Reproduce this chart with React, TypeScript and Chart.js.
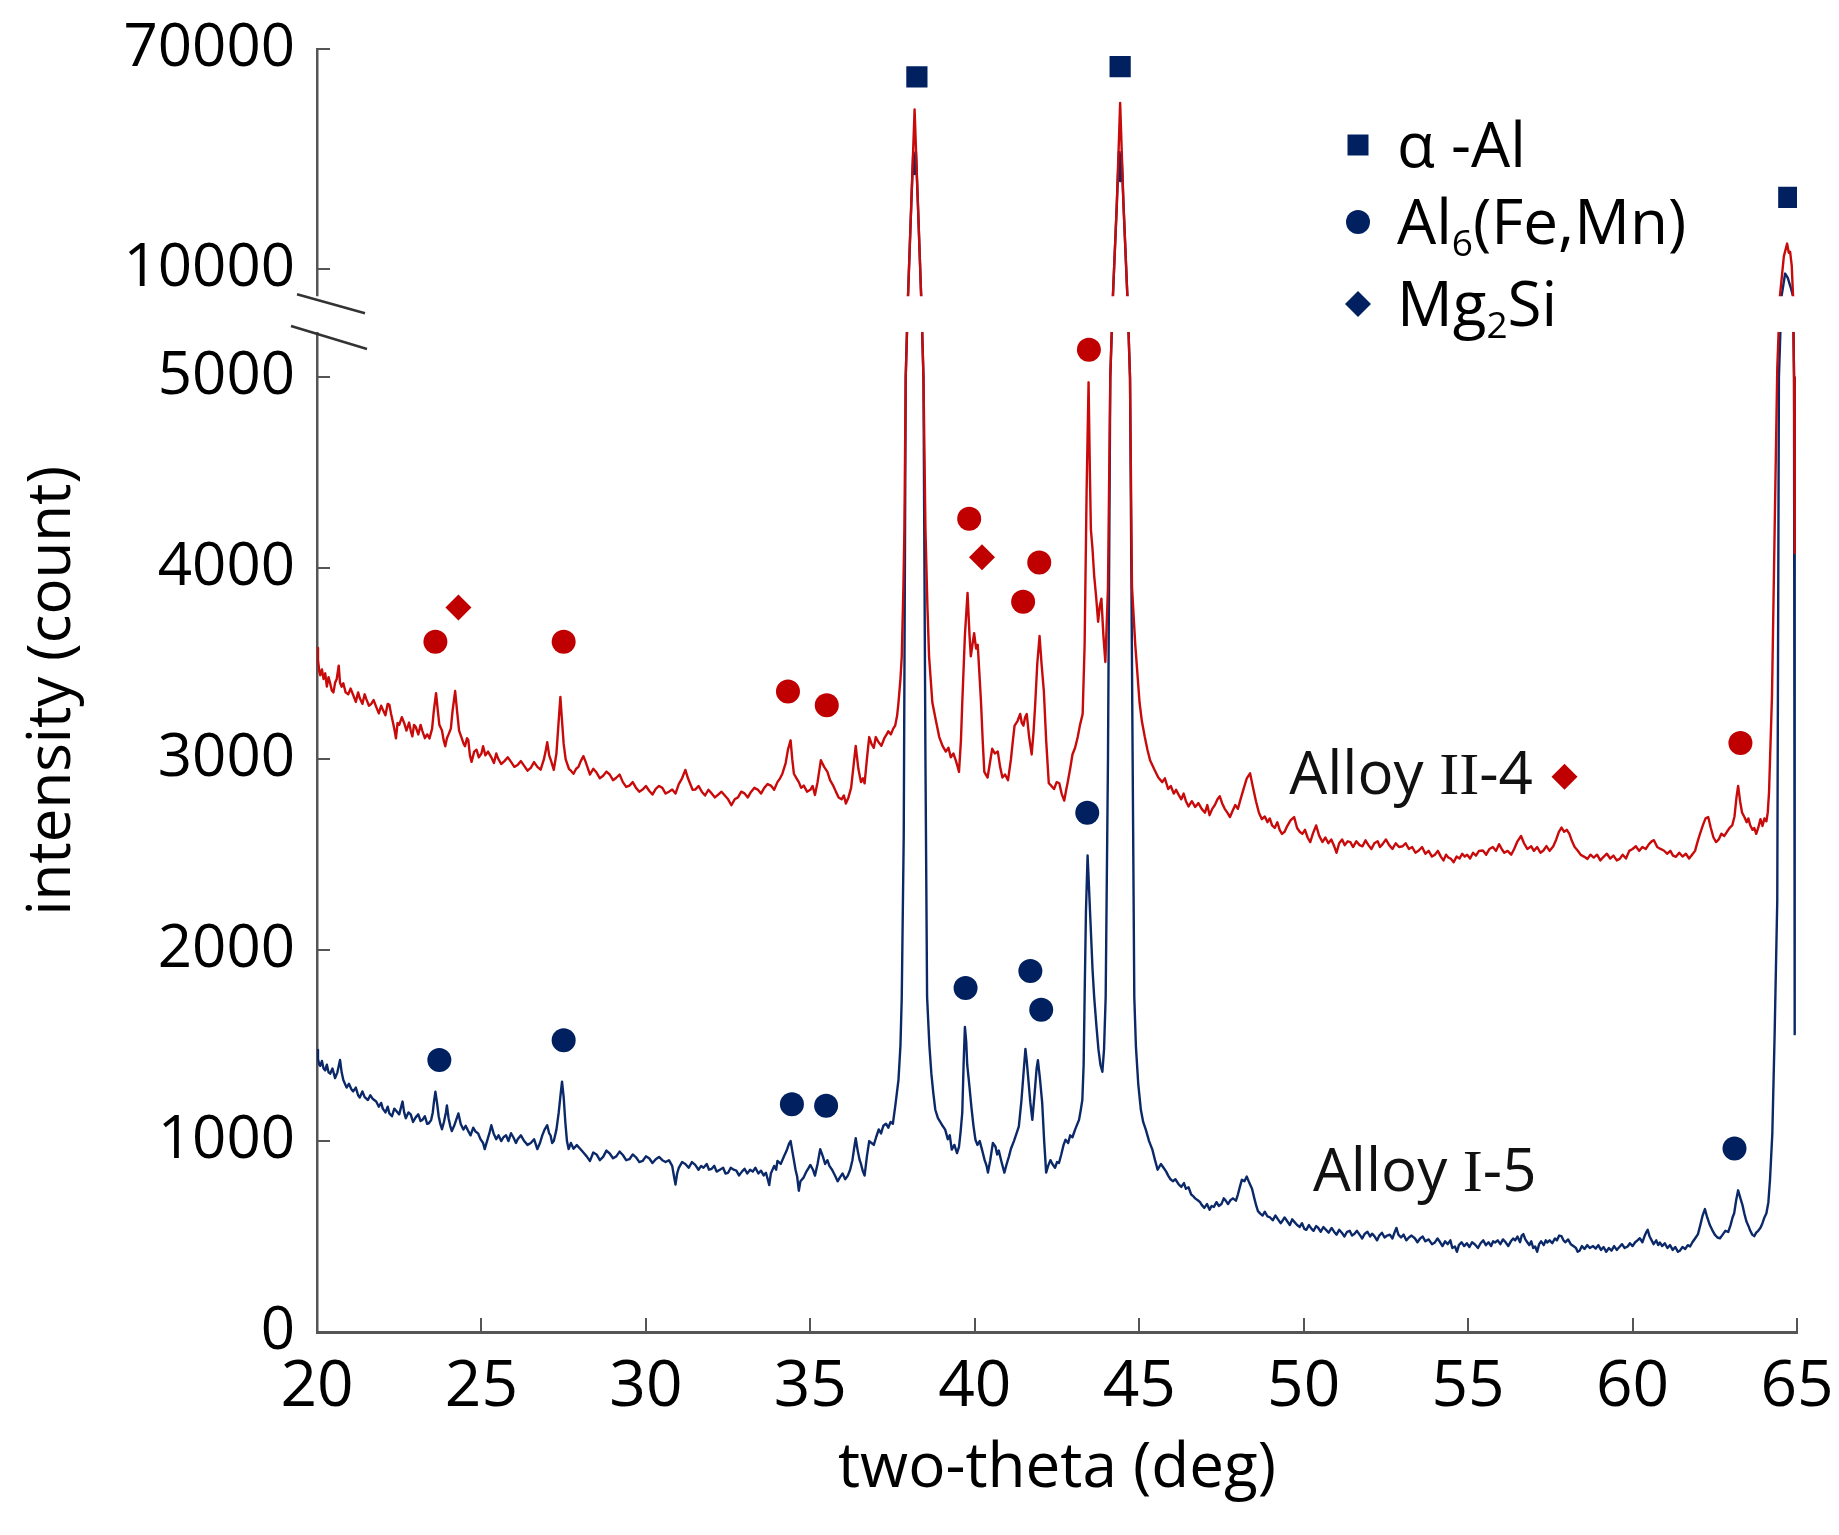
import React, { useEffect, useRef } from 'react';
import { Chart, registerables, LinearScale } from 'chart.js';

// ---------------- data ----------------
const X_MIN = 20;
const X_MAX = 65;
const X_STEP = 5;
const Y_TICKS = [0, 1000, 2000, 3000, 4000, 5000, 10000, 70000];
// value range hidden by the axis break
const Y_BREAK = [7100, 8750];
// broken axis segments: [valueFrom, valueTo, decimalFrom, decimalTo]
const Y_SEGMENTS = [
  [0, 5000, 0, 0.7443],
  [5000, 10000, 0.7443, 0.8286],
  [10000, 70000, 0.8286, 1],
];

// Alloy II-4 (two-theta, count)
const RED_POINTS = [
  [20.0,3583],[20.03,3520],[20.07,3460],[20.1,3440],[20.15,3470],[20.2,3420],[20.25,3450],[20.3,3380],[20.35,3430],[20.4,3398],[20.45,3360],[20.5,3350],[20.55,3400],[20.6,3420],[20.66,3490],[20.7,3400],[20.75,3380],[20.8,3398],[20.87,3350],[20.95,3340],[21.02,3370],[21.1,3336],[21.18,3300],[21.25,3350],[21.3,3320],[21.38,3290],[21.45,3340],[21.5,3315],[21.58,3280],[21.65,3290],[21.72,3310],[21.8,3274],[21.88,3240],[21.95,3280],[22.0,3260],[22.08,3230],[22.15,3290],[22.2,3285],[22.25,3240],[22.3,3200],[22.36,3150],[22.4,3109],[22.45,3190],[22.5,3180],[22.58,3220],[22.65,3190],[22.72,3150],[22.8,3192],[22.85,3150],[22.9,3120],[22.95,3180],[23.0,3170],[23.08,3130],[23.15,3180],[23.2,3150],[23.28,3110],[23.35,3130],[23.42,3109],[23.5,3160],[23.55,3250],[23.62,3346],[23.67,3260],[23.72,3180],[23.8,3150],[23.85,3100],[23.9,3068],[23.95,3110],[24.0,3130],[24.07,3160],[24.12,3250],[24.2,3357],[24.26,3250],[24.32,3150],[24.4,3110],[24.46,3080],[24.5,3068],[24.56,3110],[24.6,3100],[24.65,3020],[24.7,2986],[24.78,3040],[24.85,3050],[24.92,3010],[25.0,3030],[25.05,3068],[25.12,3020],[25.2,3040],[25.3,3010],[25.38,2980],[25.45,3030],[25.5,3006],[25.6,2975],[25.7,2990],[25.8,3010],[25.9,2986],[26.0,2960],[26.1,2970],[26.2,2990],[26.3,2965],[26.4,2940],[26.5,2955],[26.6,2985],[26.7,2960],[26.8,2945],[26.9,3000],[26.96,3050],[27.0,3089],[27.06,3020],[27.12,2990],[27.2,2944],[27.28,3030],[27.34,3180],[27.4,3326],[27.45,3200],[27.5,3080],[27.56,3000],[27.6,2980],[27.66,2950],[27.72,2940],[27.8,2924],[27.88,2950],[27.95,2960],[28.02,2990],[28.1,3016],[28.16,2990],[28.22,2960],[28.3,2920],[28.4,2950],[28.5,2930],[28.6,2900],[28.7,2913],[28.8,2935],[28.9,2920],[29.0,2890],[29.1,2903],[29.2,2920],[29.3,2880],[29.4,2855],[29.5,2862],[29.6,2880],[29.7,2850],[29.8,2830],[29.9,2841],[30.0,2860],[30.1,2835],[30.2,2815],[30.3,2845],[30.4,2860],[30.5,2850],[30.6,2820],[30.7,2830],[30.8,2841],[30.9,2820],[31.0,2870],[31.1,2900],[31.2,2944],[31.28,2900],[31.35,2870],[31.42,2840],[31.5,2841],[31.6,2860],[31.7,2830],[31.8,2810],[31.9,2840],[32.0,2821],[32.1,2800],[32.2,2815],[32.3,2830],[32.4,2810],[32.5,2790],[32.6,2759],[32.7,2790],[32.8,2800],[32.9,2830],[33.0,2821],[33.1,2800],[33.2,2830],[33.3,2850],[33.4,2841],[33.5,2820],[33.6,2850],[33.7,2870],[33.8,2862],[33.9,2840],[34.0,2880],[34.08,2900],[34.15,2924],[34.25,2980],[34.32,3050],[34.4,3099],[34.45,3000],[34.5,2924],[34.58,2900],[34.65,2880],[34.72,2850],[34.8,2862],[34.9,2830],
  [35.0,2840],[35.07,2860],[35.14,2813],[35.22,2880],[35.32,2995],[35.42,2960],[35.52,2934],[35.6,2890],[35.7,2860],[35.78,2829],[35.86,2800],[35.95,2790],[36.02,2810],[36.08,2768],[36.16,2800],[36.24,2850],[36.31,2960],[36.38,3070],[36.46,2950],[36.54,2880],[36.6,2900],[36.65,2874],[36.72,3000],[36.79,3116],[36.86,3080],[36.93,3060],[36.99,3116],[37.07,3090],[37.16,3070],[37.25,3110],[37.32,3130],[37.37,3146],[37.45,3130],[37.52,3160],[37.58,3176],[37.64,3230],[37.68,3297],[37.74,3420],[37.78,3539],[37.83,3900],[37.86,4204],[37.9,5000],[37.97,8750],[38.07,28000],[38.17,53600],[38.27,28000],[38.37,8750],[38.44,5000],[38.5,4204],[38.56,3800],[38.61,3539],[38.71,3297],[38.82,3200],[38.92,3116],[39.02,3070],[39.12,3040],[39.2,3060],[39.27,3010],[39.35,3030],[39.42,2995],[39.48,2960],[39.52,2934],[39.58,3100],[39.62,3297],[39.7,3650],[39.78,3871],[39.84,3650],[39.88,3539],[39.93,3600],[39.98,3660],[40.04,3580],[40.09,3599],[40.14,3450],[40.19,3297],[40.24,3100],[40.29,2934],[40.39,2904],[40.46,2980],[40.53,3055],[40.61,3030],[40.7,3040],[40.77,2960],[40.84,2904],[40.92,2920],[41.01,2890],[41.1,3000],[41.16,3100],[41.21,3176],[41.3,3200],[41.38,3237],[41.43,3190],[41.48,3176],[41.53,3220],[41.58,3237],[41.65,3120],[41.73,3025],[41.79,3150],[41.84,3297],[41.9,3500],[41.97,3645],[42.03,3500],[42.1,3357],[42.17,3100],[42.25,2874],[42.33,2860],[42.41,2844],[42.49,2880],[42.57,2874],[42.64,2820],[42.72,2783],[42.78,2840],[42.82,2874],[42.9,2950],[42.97,3025],[43.05,3060],[43.13,3116],[43.2,3180],[43.28,3237],[43.34,3600],[43.4,4400],[43.46,4974],[43.5,4500],[43.53,4204],[43.58,4100],[43.63,3962],[43.69,3850],[43.75,3720],[43.8,3800],[43.85,3841],[43.91,3650],[43.97,3509],[44.01,3700],[44.05,3901],[44.12,5000],[44.2,8750],[44.32,28000],[44.42,55400],[44.52,28000],[44.64,8750],[44.72,5000],[44.78,3901],[44.88,3599],[45.01,3297],
  [45.08,3200],[45.17,3116],[45.25,3050],[45.33,2995],[45.45,2950],[45.58,2904],[45.7,2880],[45.78,2900],[45.88,2844],[45.96,2860],[46.05,2820],[46.12,2840],[46.2,2813],[46.28,2790],[46.35,2820],[46.42,2780],[46.5,2753],[46.6,2780],[46.7,2750],[46.8,2770],[46.9,2740],[47.0,2720],[47.07,2760],[47.14,2707],[47.22,2740],[47.3,2760],[47.38,2790],[47.45,2806],[47.52,2770],[47.6,2740],[47.68,2720],[47.76,2697],[47.84,2730],[47.92,2760],[48.0,2740],[48.08,2790],[48.18,2849],[48.27,2900],[48.37,2926],[48.45,2860],[48.55,2780],[48.64,2720],[48.73,2686],[48.82,2700],[48.9,2670],[48.97,2690],[49.04,2653],[49.12,2640],[49.2,2670],[49.27,2630],[49.34,2609],[49.42,2620],[49.5,2650],[49.6,2680],[49.71,2697],[49.8,2640],[49.88,2620],[49.96,2609],[50.04,2630],[50.12,2590],[50.2,2566],[50.28,2610],[50.38,2653],[50.47,2600],[50.57,2566],[50.66,2590],[50.75,2560],[50.84,2580],[50.93,2544],[51.0,2510],[51.08,2560],[51.17,2580],[51.25,2550],[51.34,2570],[51.42,2566],[51.5,2540],[51.6,2570],[51.7,2550],[51.79,2544],[51.88,2575],[51.97,2550],[52.06,2530],[52.15,2560],[52.25,2570],[52.32,2540],[52.4,2555],[52.5,2580],[52.6,2550],[52.7,2530],[52.8,2560],[52.9,2540],[53.01,2544],[53.1,2560],[53.2,2530],[53.3,2540],[53.4,2510],[53.5,2522],[53.6,2540],[53.7,2505],[53.8,2520],[53.9,2490],[53.99,2500],[54.08,2520],[54.17,2490],[54.25,2470],[54.33,2500],[54.4,2485],[54.48,2478],[54.56,2460],[54.65,2490],[54.74,2480],[54.82,2505],[54.9,2490],[54.97,2500],[55.06,2480],[55.15,2510],[55.24,2495],[55.33,2520],[55.45,2522],[55.55,2500],[55.65,2530],[55.75,2540],[55.85,2520],[55.94,2555],[56.02,2530],[56.1,2510],[56.2,2520],[56.31,2500],[56.4,2530],[56.5,2570],[56.61,2598],[56.7,2560],[56.8,2530],[56.92,2544],[57.0,2520],[57.1,2540],[57.2,2510],[57.29,2522],[57.38,2545],[57.48,2520],[57.59,2544],[57.68,2580],[57.76,2620],[57.84,2642],[57.92,2620],[58.0,2630],[58.08,2609],[58.16,2570],[58.24,2540],[58.33,2522],[58.42,2500],[58.52,2490],[58.63,2478],[58.72,2500],[58.82,2485],[58.92,2500],[59.02,2470],[59.12,2489],[59.22,2505],[59.32,2480],[59.42,2495],[59.52,2470],[59.61,2478],[59.7,2500],[59.8,2480],[59.9,2520],[60.0,2530],[60.1,2544],[60.2,2520],[60.3,2540],[60.4,2530],[60.5,2555],[60.58,2570],[60.65,2576],[60.75,2540],[60.85,2530],[60.95,2522],[61.05,2505],[61.15,2520],[61.23,2495],[61.32,2489],[61.42,2510],[61.52,2490],[61.62,2505],[61.72,2480],[61.81,2500],[61.9,2520],[61.98,2570],[62.05,2609],[62.15,2660],[62.22,2690],[62.3,2697],[62.38,2640],[62.46,2590],[62.54,2566],[62.62,2580],[62.7,2610],[62.79,2598],[62.87,2620],[62.95,2640],[63.03,2653],[63.1,2700],[63.16,2800],[63.21,2860],[63.27,2780],[63.33,2720],[63.4,2697],[63.47,2670],[63.52,2690],[63.58,2653],[63.65,2630],[63.7,2640],[63.76,2609],[63.82,2640],[63.89,2686],[63.95,2650],[64.01,2690],[64.07,2675],[64.11,2720],[64.15,2828],[64.24,3335],[64.32,4200],[64.4,5400],[64.48,8750],[64.6,13500],[64.7,17000],[64.75,14500],[64.79,14800],[64.84,11000],[64.88,8750],[64.91,5000],[64.93,4080],
];

// Alloy I-5 (two-theta, count)
const BLUE_POINTS = [
  [20.0,1477],[20.03,1430],[20.07,1400],[20.1,1394],[20.15,1420],[20.2,1380],[20.25,1370],[20.3,1400],[20.35,1360],[20.4,1353],[20.47,1380],[20.55,1330],[20.62,1360],[20.7,1425],[20.75,1360],[20.8,1320],[20.85,1300],[20.9,1280],[20.97,1300],[21.05,1270],[21.1,1260],[21.18,1280],[21.25,1240],[21.3,1228],[21.38,1260],[21.45,1230],[21.55,1215],[21.62,1240],[21.7,1220],[21.8,1207],[21.88,1180],[21.95,1200],[22.0,1170],[22.08,1150],[22.15,1180],[22.2,1145],[22.28,1130],[22.35,1170],[22.4,1160],[22.5,1140],[22.6,1207],[22.65,1150],[22.7,1120],[22.78,1150],[22.85,1140],[22.92,1100],[23.0,1124],[23.08,1140],[23.15,1105],[23.2,1110],[23.28,1130],[23.35,1090],[23.4,1093],[23.47,1110],[23.52,1150],[23.56,1210],[23.6,1259],[23.65,1200],[23.7,1130],[23.75,1090],[23.8,1062],[23.86,1100],[23.92,1150],[23.95,1187],[24.0,1120],[24.05,1080],[24.1,1052],[24.17,1080],[24.23,1110],[24.3,1145],[24.37,1090],[24.45,1060],[24.52,1080],[24.6,1052],[24.67,1030],[24.75,1070],[24.82,1050],[24.9,1040],[24.97,1010],[25.05,990],[25.1,958],[25.17,1000],[25.24,1040],[25.3,1083],[25.37,1040],[25.45,1010],[25.52,1030],[25.6,1000],[25.67,1020],[25.75,1030],[25.82,1000],[25.9,1041],[25.97,1020],[26.05,990],[26.1,1010],[26.2,1030],[26.3,1000],[26.4,980],[26.5,990],[26.6,1010],[26.7,958],[26.78,990],[26.85,1030],[26.92,1060],[27.0,1083],[27.06,1040],[27.1,1030],[27.15,990],[27.2,1000],[27.28,1060],[27.35,1150],[27.41,1250],[27.45,1311],[27.5,1230],[27.55,1100],[27.6,1000],[27.65,958],[27.72,990],[27.8,960],[27.9,979],[28.0,960],[28.1,940],[28.2,920],[28.3,896],[28.4,940],[28.5,930],[28.6,900],[28.7,917],[28.8,950],[28.9,935],[29.0,910],[29.1,920],[29.2,945],[29.3,927],[29.4,900],[29.5,905],[29.6,930],[29.7,915],[29.8,890],[29.9,896],[30.0,920],[30.1,910],[30.2,885],[30.3,905],[30.4,917],[30.5,900],[30.6,890],[30.7,900],[30.8,870],[30.85,820],[30.9,772],[30.95,830],[31.0,860],[31.1,890],[31.2,880],[31.3,860],[31.4,890],[31.5,875],[31.6,850],[31.68,870],[31.75,860],[31.85,880],[31.92,850],[32.0,855],[32.08,870],[32.15,840],[32.25,850],[32.35,860],[32.42,830],[32.5,834],[32.58,860],[32.67,850],[32.75,845],[32.83,820],[32.92,840],[33.0,855],[33.08,830],[33.17,850],[33.25,840],[33.33,860],[33.42,830],[33.5,845],[33.58,820],[33.65,834],[33.72,790],[33.75,770],[33.8,830],[33.9,870],[33.96,850],[34.0,896],[34.1,880],[34.2,920],[34.28,950],[34.35,985],[34.4,1000],[34.45,950],[34.5,900],[34.55,850],[34.6,813],[34.65,740],[34.7,790],[34.8,810],[34.88,840],[34.95,860],
  [35.0,875],[35.08,850],[35.14,819],[35.22,880],[35.3,958],[35.38,920],[35.45,880],[35.52,900],[35.58,870],[35.66,850],[35.75,820],[35.83,789],[35.9,810],[35.98,830],[36.06,800],[36.14,819],[36.21,850],[36.28,900],[36.33,960],[36.38,1015],[36.44,950],[36.5,900],[36.54,880],[36.6,840],[36.65,819],[36.72,920],[36.79,1000],[36.86,990],[36.93,980],[37.0,1020],[37.08,1061],[37.15,1040],[37.22,1080],[37.3,1091],[37.37,1070],[37.44,1100],[37.51,1091],[37.58,1180],[37.63,1250],[37.68,1320],[37.74,1500],[37.78,1755],[37.84,2600],[37.9,5000],[37.97,8750],[38.07,28000],[38.13,42000],[38.17,36000],[38.21,42000],[38.27,28000],[38.37,8750],[38.44,5000],[38.5,3000],[38.55,1755],[38.62,1500],[38.68,1353],[38.74,1250],[38.8,1164],[38.88,1120],[38.95,1100],[39.02,1080],[39.1,1060],[39.18,1010],[39.24,1030],[39.3,955],[39.38,980],[39.46,937],[39.52,970],[39.57,1050],[39.62,1150],[39.66,1400],[39.7,1598],[39.74,1520],[39.77,1400],[39.83,1300],[39.9,1174],[39.96,1080],[40.02,1007],[40.08,980],[40.15,1000],[40.22,955],[40.3,900],[40.36,870],[40.4,835],[40.47,900],[40.55,990],[40.63,970],[40.68,930],[40.73,950],[40.8,900],[40.86,860],[40.9,835],[40.97,880],[41.04,920],[41.1,960],[41.19,1000],[41.27,1040],[41.34,1077],[41.42,1215],[41.48,1350],[41.54,1483],[41.58,1420],[41.63,1320],[41.69,1200],[41.75,1111],[41.82,1250],[41.88,1380],[41.92,1423],[41.98,1330],[42.05,1200],[42.11,1000],[42.17,835],[42.23,870],[42.3,900],[42.36,880],[42.44,860],[42.5,890],[42.56,885],[42.63,930],[42.7,980],[42.76,1007],[42.84,990],[42.9,1030],[42.97,1020],[43.05,1060],[43.12,1090],[43.17,1111],[43.22,1160],[43.27,1215],[43.31,1400],[43.34,1755],[43.38,2200],[43.43,2496],[43.48,2300],[43.53,2100],[43.58,1900],[43.63,1755],[43.7,1600],[43.76,1480],[43.82,1400],[43.88,1363],[43.93,1480],[43.98,1755],[44.05,3000],[44.12,5000],[44.2,8750],[44.32,28000],[44.38,42000],[44.42,34000],[44.46,42000],[44.52,28000],[44.64,8750],[44.72,5000],[44.8,3000],[44.85,1755],[44.9,1493],[44.97,1300],[45.05,1164],[45.12,1100],[45.2,1060],[45.3,1000],[45.4,955],[45.48,900],[45.56,850],[45.66,880],[45.74,860],[45.82,840],[45.88,819],
  [45.95,800],[46.02,790],[46.1,800],[46.2,773],[46.28,760],[46.36,780],[46.42,750],[46.5,758],[46.58,720],[46.65,710],[46.7,700],[46.78,690],[46.85,680],[46.9,666],[46.98,650],[47.06,670],[47.14,640],[47.2,660],[47.27,655],[47.35,680],[47.42,660],[47.5,670],[47.57,700],[47.63,688],[47.7,670],[47.77,690],[47.85,700],[47.94,688],[48.0,720],[48.06,760],[48.12,797],[48.2,790],[48.27,814],[48.35,780],[48.43,750],[48.5,700],[48.56,660],[48.61,633],[48.68,620],[48.75,610],[48.82,630],[48.9,605],[48.98,600],[49.06,585],[49.14,610],[49.22,590],[49.3,570],[49.34,578],[49.42,600],[49.5,580],[49.58,560],[49.65,590],[49.71,578],[49.8,560],[49.88,550],[49.95,570],[50.02,540],[50.08,535],[50.16,560],[50.24,540],[50.3,530],[50.38,555],[50.44,546],[50.52,525],[50.6,550],[50.68,535],[50.76,520],[50.85,545],[50.93,524],[51.0,510],[51.08,535],[51.16,520],[51.24,500],[51.32,525],[51.4,530],[51.47,505],[51.54,513],[51.62,530],[51.7,510],[51.78,490],[51.86,515],[51.94,525],[52.02,500],[52.08,515],[52.15,502],[52.23,480],[52.3,505],[52.38,520],[52.46,495],[52.54,505],[52.62,510],[52.7,490],[52.77,524],[52.82,545],[52.88,510],[52.96,495],[53.04,510],[53.12,480],[53.2,495],[53.28,505],[53.38,491],[53.46,470],[53.54,490],[53.62,500],[53.7,475],[53.8,485],[53.9,460],[53.99,469],[54.07,490],[54.15,470],[54.22,450],[54.3,475],[54.38,460],[54.46,480],[54.52,440],[54.6,448],[54.66,420],[54.72,455],[54.8,470],[54.88,450],[54.96,465],[55.04,445],[55.12,470],[55.21,458],[55.3,440],[55.38,465],[55.46,480],[55.54,455],[55.62,470],[55.7,450],[55.76,475],[55.82,469],[55.9,480],[55.98,460],[56.06,485],[56.14,470],[56.22,450],[56.3,475],[56.37,490],[56.43,480],[56.5,500],[56.58,470],[56.63,505],[56.68,513],[56.74,485],[56.8,470],[56.86,455],[56.92,475],[56.98,440],[57.04,448],[57.1,420],[57.16,460],[57.22,475],[57.3,455],[57.36,480],[57.41,469],[57.48,480],[57.56,465],[57.64,490],[57.7,480],[57.77,505],[57.84,502],[57.9,480],[57.96,470],[58.04,485],[58.12,460],[58.2,450],[58.28,440],[58.33,420],[58.39,426],[58.46,450],[58.54,435],[58.62,455],[58.7,440],[58.8,450],[58.88,437],[58.96,455],[59.04,430],[59.12,445],[59.2,420],[59.28,440],[59.36,426],[59.44,450],[59.52,430],[59.6,445],[59.68,460],[59.76,440],[59.85,448],[59.92,465],[60.0,450],[60.08,470],[60.15,480],[60.22,491],[60.3,470],[60.36,500],[60.41,520],[60.46,535],[60.52,500],[60.58,480],[60.64,460],[60.72,480],[60.78,455],[60.83,469],[60.9,450],[60.98,465],[61.06,440],[61.14,455],[61.22,430],[61.3,445],[61.38,420],[61.44,426],[61.52,445],[61.6,435],[61.68,455],[61.75,448],[61.82,470],[61.9,490],[61.99,513],[62.06,560],[62.13,610],[62.2,644],[62.27,600],[62.35,560],[62.42,535],[62.5,510],[62.58,495],[62.66,491],[62.74,510],[62.82,530],[62.91,524],[62.98,560],[63.04,600],[63.09,622],[63.15,690],[63.21,742],[63.28,700],[63.34,666],[63.4,620],[63.46,580],[63.52,557],[63.58,530],[63.64,510],[63.7,502],[63.76,520],[63.82,530],[63.89,546],[63.95,570],[64.01,600],[64.07,622],[64.13,680],[64.18,800],[64.25,1040],[64.32,1560],[64.4,2260],[64.45,5000],[64.53,8750],[64.64,9800],[64.72,9600],[64.8,9200],[64.88,8750],[64.91,5000],[64.93,1560],
];

// phase markers (two-theta, count)
const ALPHA_AL_MARKERS = [[38.24, 62500], [44.42, 65300], [64.75, 29600]];
const RED_AL6_MARKERS = [[23.6, 3615], [27.5, 3615], [34.32, 3355], [35.5, 3283], [39.83, 4260], [41.47, 3825], [41.96, 4030], [43.47, 6280], [63.28, 3085]];
const RED_MG2SI_MARKERS = [[24.3, 3794], [40.22, 4058], [57.93, 2908]];
const BLUE_AL6_MARKERS = [[23.72, 1425], [27.5, 1528], [34.44, 1193], [35.48, 1185], [39.72, 1802], [41.69, 1891], [42.02, 1688], [43.42, 2720], [63.1, 961]];

// curve labels: text parts, anchored at (two-theta, count) of their left/middle
const CURVE_LABELS = [
  { parts: [['Alloy ', 'sans'], ['II', 'serif'], ['-4', 'sans']], at: [49.56, 2931] },
  { parts: [['Alloy ', 'sans'], ['I', 'serif'], ['-5', 'sans']], at: [50.28, 850] },
];

// legend entries
const LEGEND_ITEMS = [
  { shape: 'square', parts: [['α -Al', false]] },
  { shape: 'circle', parts: [['Al', false], ['6', true], ['(Fe,Mn)', false]] },
  { shape: 'diamond', parts: [['Mg', false], ['2', true], ['Si', false]] },
];

// ---------------- styling ----------------
const SANS = '"Open Sans", "Noto Sans", sans-serif';
const SERIF = '"Liberation Serif", "DejaVu Serif", serif';
const RED = '#C00000';
const RED_LINE = '#C80A0A';
const NAVY = '#002060';
const NAVY_LINE = '#0B2968';
const AXIS = '#555555';

function valueToDecimal(v: number): number {
  for (const [v0, v1, d0, d1] of Y_SEGMENTS) {
    if (v <= v1) return d0 + ((v - v0) / (v1 - v0)) * (d1 - d0);
  }
  const [v0, v1, d0, d1] = Y_SEGMENTS[Y_SEGMENTS.length - 1];
  return d0 + ((v - v0) / (v1 - v0)) * (d1 - d0);
}

function decimalToValue(d: number): number {
  for (const [v0, v1, d0, d1] of Y_SEGMENTS) {
    if (d <= d1) return v0 + ((d - d0) / (d1 - d0)) * (v1 - v0);
  }
  const [v0, v1, d0, d1] = Y_SEGMENTS[Y_SEGMENTS.length - 1];
  return v0 + ((d - d0) / (d1 - d0)) * (v1 - v0);
}

class BrokenLinearScale extends LinearScale {
  static id = 'brokenLinear';
  static defaults = {};
  getPixelForValue(value: number) {
    return this.getPixelForDecimal(valueToDecimal(value));
  }
  getValueForPixel(pixel: number) {
    return decimalToValue(this.getDecimalForPixel(pixel));
  }
}

Chart.register(...registerables, BrokenLinearScale);

const toXY = (arr: number[][]) => arr.map(([x, y]) => ({ x, y }));

function drawLegendShape(ctx: CanvasRenderingContext2D, shape: string, x: number, y: number) {
  ctx.fillStyle = NAVY;
  ctx.beginPath();
  if (shape === 'square') {
    ctx.rect(x - 10.5, y - 10.5, 21, 21);
  } else if (shape === 'circle') {
    ctx.arc(x, y, 12, 0, Math.PI * 2);
  } else {
    ctx.moveTo(x, y - 13);
    ctx.lineTo(x + 13, y);
    ctx.lineTo(x, y + 13);
    ctx.lineTo(x - 13, y);
    ctx.closePath();
  }
  ctx.fill();
}

const overlayPlugin = {
  id: 'brokenAxisOverlay',
  afterDraw(chart: any) {
    const { ctx, chartArea, scales } = chart;
    const xs = scales.x;
    const ys = scales.y;
    const L = chartArea.left;
    const bandTop = ys.getPixelForValue(Y_BREAK[1]);
    const bandBottom = ys.getPixelForValue(Y_BREAK[0]);
    ctx.save();
    // white gap of the broken axis
    ctx.fillStyle = '#ffffff';
    ctx.fillRect(L - 4, bandTop, chartArea.right - L + 30, bandBottom - bandTop);
    // break marks
    ctx.strokeStyle = '#333333';
    ctx.lineWidth = 2.5;
    ctx.beginPath();
    ctx.moveTo(L - 20, bandTop - 2);
    ctx.lineTo(L + 48, bandTop + 17);
    ctx.moveTo(L - 26, bandBottom - 6);
    ctx.lineTo(L + 50, bandBottom + 17);
    ctx.stroke();

    // legend
    const legendX = 1358;
    const legendTextX = 1397;
    const legendRows = [145, 222, 304];
    const lsize = 62;
    ctx.textAlign = 'left';
    ctx.textBaseline = 'alphabetic';
    LEGEND_ITEMS.forEach((item, i) => {
      const cy = legendRows[i];
      drawLegendShape(ctx, item.shape, legendX, cy);
      ctx.fillStyle = '#000';
      let cx = legendTextX;
      const baseline = cy + lsize * 0.357;
      for (const [t, sub] of item.parts as any) {
        const s = sub ? 37 : lsize;
        ctx.font = `${s}px ${SANS}`;
        ctx.fillText(t, cx, baseline + (sub ? 12 : 0));
        cx += ctx.measureText(t).width;
      }
    });

    // curve labels
    const csize = 60;
    CURVE_LABELS.forEach((lab) => {
      let cx = xs.getPixelForValue(lab.at[0]);
      const baseline = ys.getPixelForValue(lab.at[1]) + csize * 0.357;
      ctx.fillStyle = '#111';
      for (const [t, fam] of lab.parts) {
        ctx.font = `${csize}px ${fam === 'serif' ? SERIF : SANS}`;
        ctx.fillText(t, cx, baseline);
        cx += ctx.measureText(t).width;
      }
    });
    ctx.restore();
  },
};

export default function App() {
  const canvasRef = useRef<HTMLCanvasElement | null>(null);

  useEffect(() => {
    document.body.style.margin = '0';
    const canvas = canvasRef.current;
    if (!canvas) return;

    const markerBase = { type: 'scatter', borderWidth: 0, order: 0, pointHoverRadius: 0 };
    const chart = new Chart(canvas, {
      type: 'scatter',
      data: {
        datasets: [
          { ...markerBase, label: 'α-Al', data: toXY(ALPHA_AL_MARKERS), pointStyle: 'rect', pointRadius: 15, backgroundColor: NAVY },
          { ...markerBase, label: 'Al6(Fe,Mn) II-4', data: toXY(RED_AL6_MARKERS), pointStyle: 'circle', pointRadius: 12, backgroundColor: RED },
          { ...markerBase, label: 'Mg2Si II-4', data: toXY(RED_MG2SI_MARKERS), pointStyle: 'rectRot', pointRadius: 13, backgroundColor: RED },
          { ...markerBase, label: 'Al6(Fe,Mn) I-5', data: toXY(BLUE_AL6_MARKERS), pointStyle: 'circle', pointRadius: 12, backgroundColor: NAVY },
          { type: 'scatter', label: 'Alloy II-4', data: toXY(RED_POINTS), showLine: true, borderColor: RED_LINE, borderWidth: 2.4, pointRadius: 0, borderJoinStyle: 'round', order: 1, tension: 0 },
          { type: 'scatter', label: 'Alloy I-5', data: toXY(BLUE_POINTS), showLine: true, borderColor: NAVY_LINE, borderWidth: 2.4, pointRadius: 0, borderJoinStyle: 'round', order: 2, tension: 0 },
        ] as any,
      },
      options: {
        animation: false,
        responsive: true,
        maintainAspectRatio: false,
        events: [],
        layout: { padding: { top: 49.4, right: 42, left: 0, bottom: 0 } },
        plugins: { legend: { display: false }, tooltip: { enabled: false } },
        scales: {
          x: {
            type: 'linear',
            min: X_MIN,
            max: X_MAX,
            afterFit: (s: any) => { s.height = 203; s.paddingLeft = 0; s.paddingRight = 0; },
            ticks: { stepSize: X_STEP, autoSkip: false, maxRotation: 0, padding: 31, color: '#000', font: { size: 64, family: SANS }, callback: (v: any) => String(v) },
            grid: { drawOnChartArea: false, drawTicks: true, tickLength: -14, color: AXIS, lineWidth: 2 },
            border: { display: true, color: AXIS, width: 3 },
            title: { display: true, text: 'two-theta (deg)', color: '#000', font: { size: 62, family: SANS }, padding: { top: 0, bottom: 28 } },
          },
          y: {
            type: 'brokenLinear',
            min: 0,
            max: 70000,
            afterFit: (s: any) => { s.width = 317; s.paddingTop = 0; s.paddingBottom = 0; },
            afterBuildTicks: (s: any) => { s.ticks = Y_TICKS.map((v) => ({ value: v })); },
            ticks: { autoSkip: false, padding: 35, color: '#000', font: { size: 60, family: SANS }, callback: (v: any) => String(v) },
            grid: { drawOnChartArea: false, drawTicks: true, tickLength: -13, color: AXIS, lineWidth: 2 },
            border: { display: true, color: AXIS, width: 2.5 },
            title: { display: true, text: 'intensity (count)', color: '#000', font: { size: 60, family: SANS }, padding: { top: 17, bottom: 0 } },
          },
        } as any,
      },
      plugins: [overlayPlugin],
    } as any);

    return () => chart.destroy();
  }, []);

  return (
    <div style={{ position: 'relative', width: '1839px', height: '1535px' }}>
      <canvas ref={canvasRef} />
    </div>
  );
}
